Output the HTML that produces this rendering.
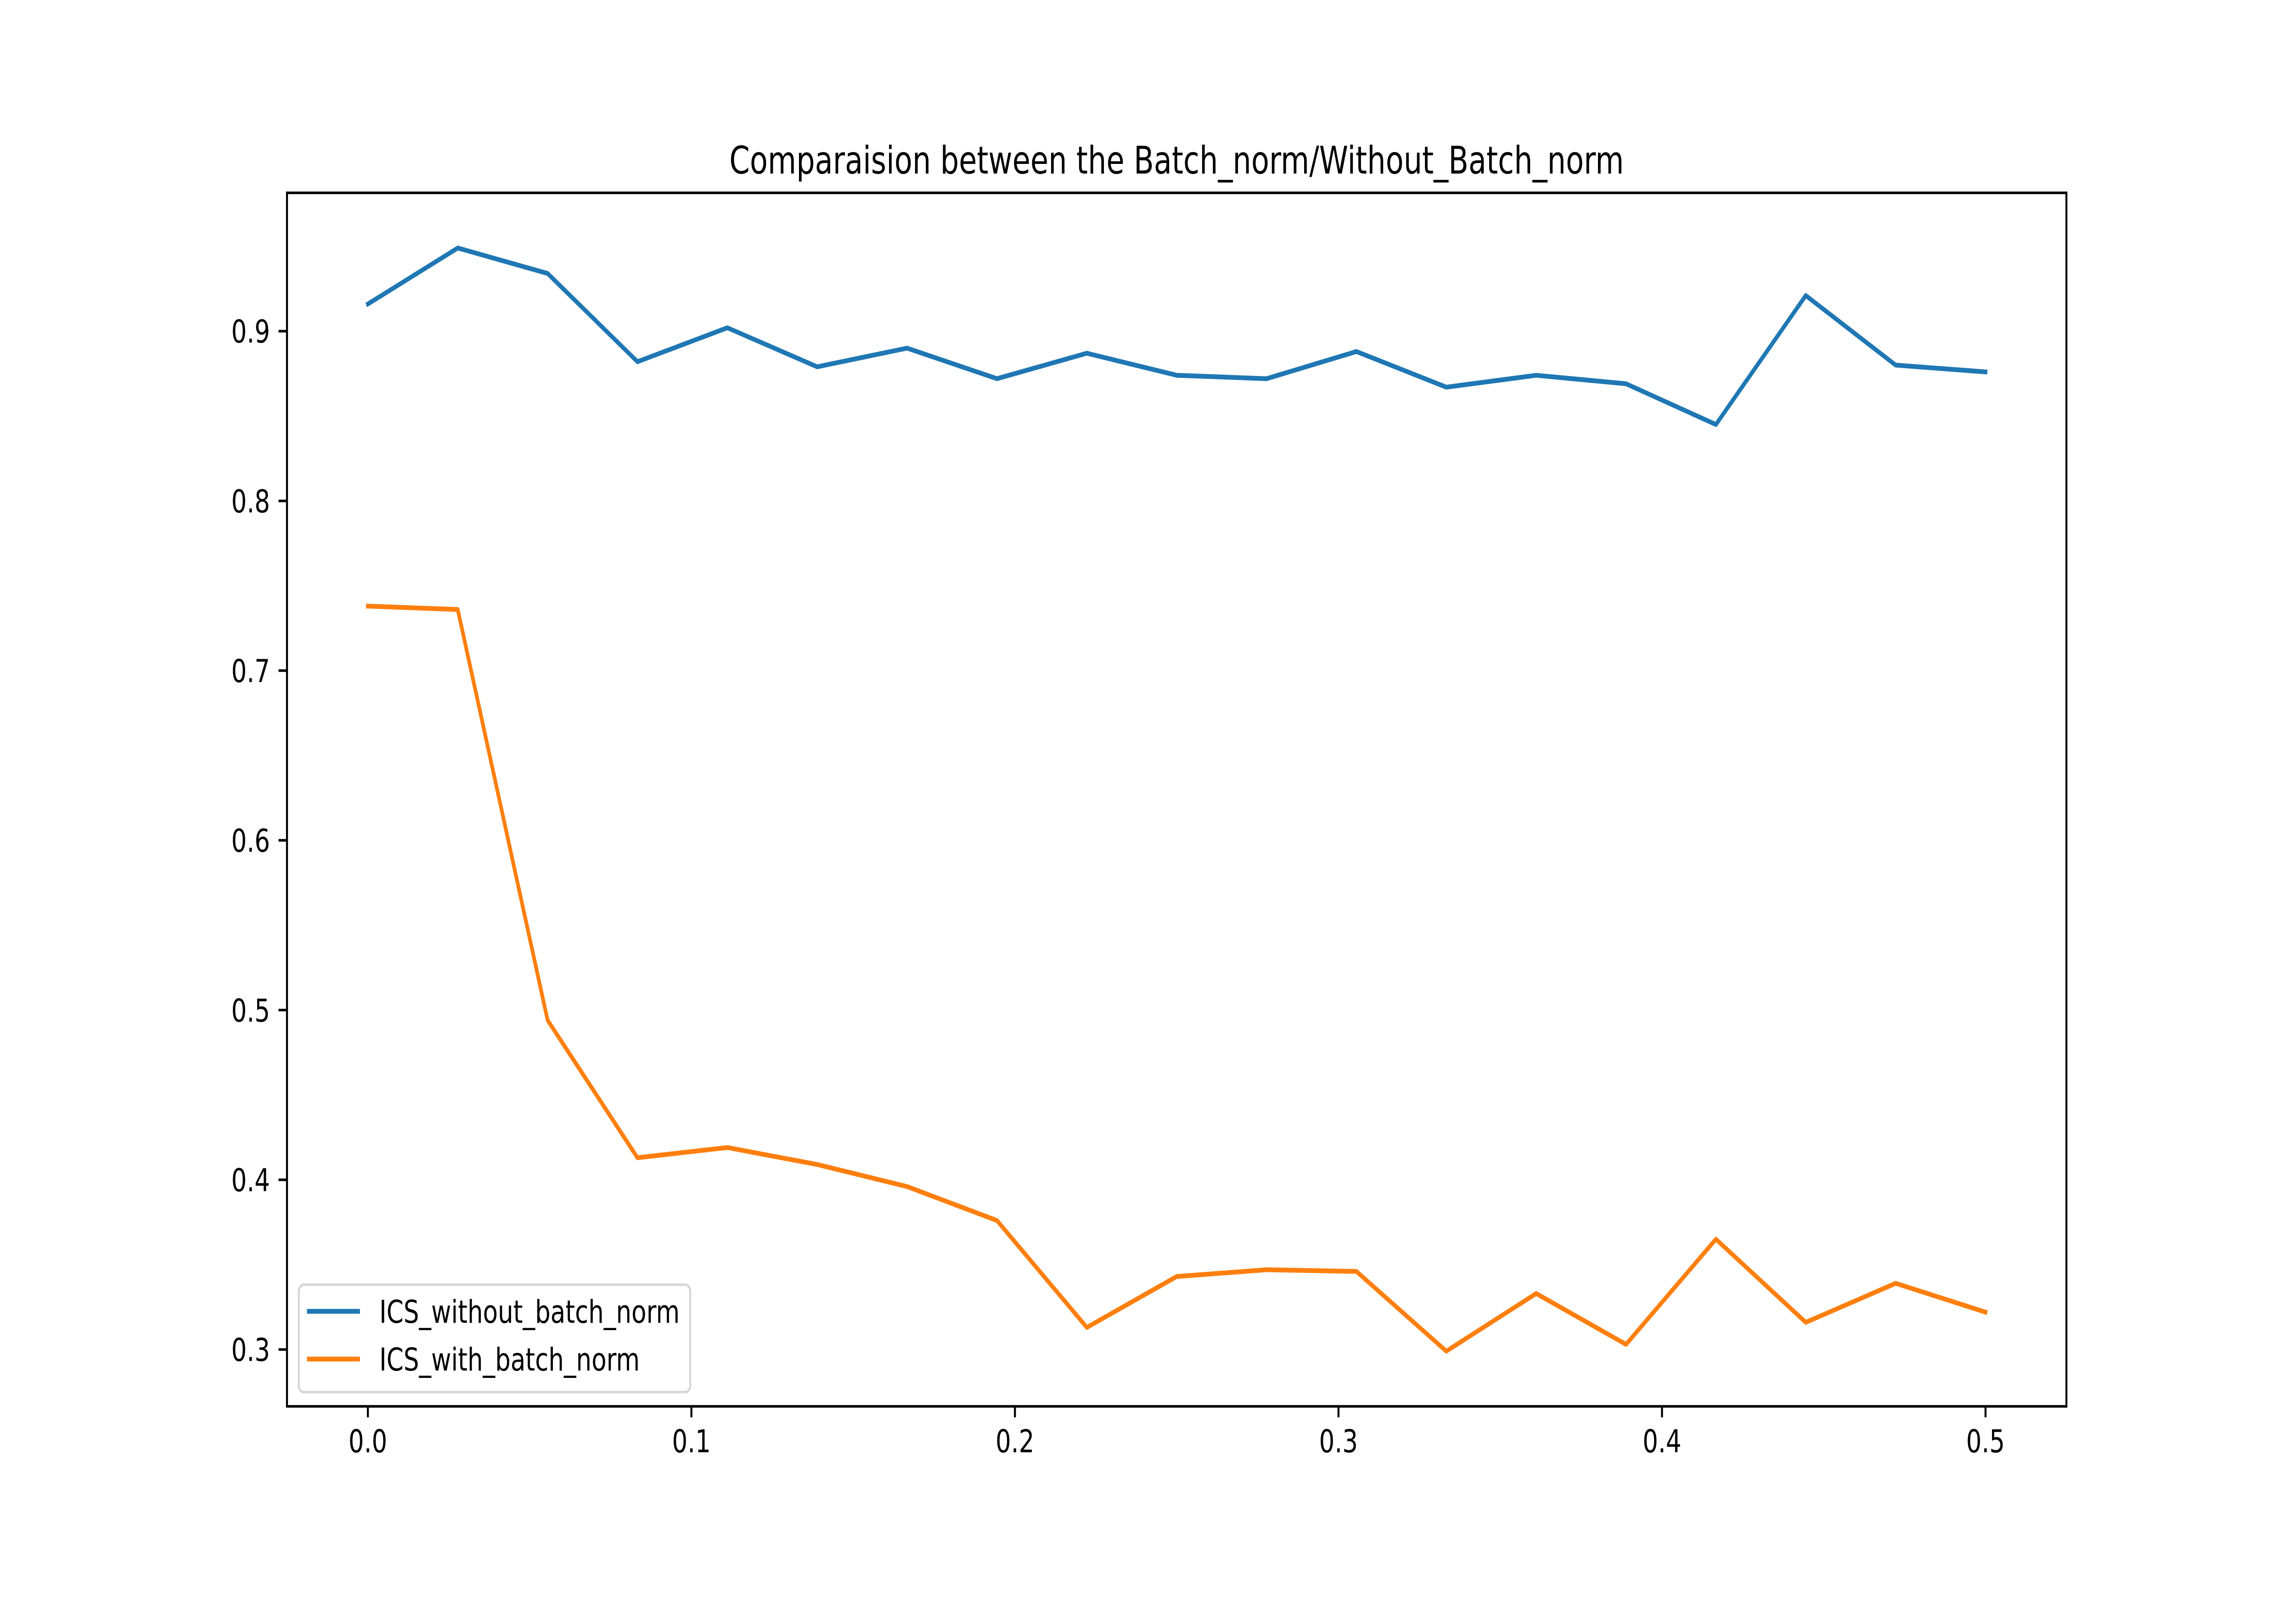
<!DOCTYPE html>
<html><head><meta charset="utf-8"><style>
html,body{margin:0;padding:0;background:#fff;overflow:hidden;width:100%;height:100%;}
svg{display:block;width:100vw;height:100vh;font-family:"DejaVu Sans","Liberation Sans",sans-serif;}
</style></head><body>
<svg id="chart" viewBox="0 0 6500 3500" preserveAspectRatio="none" xmlns="http://www.w3.org/2000/svg">
<rect width="6500" height="3500" fill="#fff"/>
<text x="3331" y="378" font-size="83" text-anchor="middle" fill="#000">Comparaision between the Batch_norm/Without_Batch_norm</text>
<g id="plot"></g>
</svg>
<script>
const xValues = [0,1/36,2/36,3/36,4/36,5/36,6/36,7/36,8/36,9/36,10/36,11/36,12/36,13/36,14/36,15/36,16/36,17/36,18/36];
const withoutBN = [0.916,0.949,0.934,0.882,0.902,0.879,0.890,0.872,0.887,0.874,0.872,0.888,0.867,0.874,0.869,0.845,0.921,0.880,0.876];
const withBN = [0.738,0.736,0.494,0.413,0.419,0.409,0.396,0.376,0.313,0.343,0.347,0.346,0.299,0.333,0.303,0.365,0.316,0.339,0.322];
const xTicks = [0.0,0.1,0.2,0.3,0.4,0.5];
const xTickLabels = ["0.0","0.1","0.2","0.3","0.4","0.5"];
const yTicks = [0.3,0.4,0.5,0.6,0.7,0.8,0.9];
const yTickLabels = ["0.3","0.4","0.5","0.6","0.7","0.8","0.9"];
const seriesNames = ["ICS_without_batch_norm","ICS_with_batch_norm"];

const NS="http://www.w3.org/2000/svg";
const L=812.5,R=5850,T=420,B=3063;
const xmin=Math.min(...xValues),xmax=Math.max(...xValues),xm=(xmax-xmin)*0.05;
const all=withoutBN.concat(withBN);
const ymin=Math.min(...all),ymax=Math.max(...all),ym=(ymax-ymin)*0.05;
const X=v=>L+(v-(xmin-xm))/((xmax+xm)-(xmin-xm))*(R-L);
const Y=v=>B-(v-(ymin-ym))/((ymax+ym)-(ymin-ym))*(B-T);
const g=document.getElementById('plot');
function mk(tag,attrs){const e=document.createElementNS(NS,tag);for(const k in attrs)e.setAttribute(k,attrs[k]);g.appendChild(e);return e;}

const colors=["#1f77b4","#ff7f0e"];
[withoutBN,withBN].forEach((s,i)=>{
  const p=mk('polyline',{points:s.map((v,j)=>X(xValues[j])+','+Y(v)).join(' '),fill:'none',stroke:colors[i],'stroke-width':10.4,'stroke-linejoin':'round','stroke-linecap':'square'});
  
  
});

const frame=mk('rect',{x:L,y:T,width:R-L,height:B-T,fill:'none',stroke:'#000','stroke-width':5.6});



xTicks.forEach((v,i)=>{
  const t=mk('line',{x1:X(v),x2:X(v),y1:B,y2:B+24,stroke:'#000','stroke-width':5.6});
  
  
  const tx=mk('text',{x:X(v),y:B+24+24+52,'font-size':69,'text-anchor':'middle',fill:'#000'});
  tx.textContent=xTickLabels[i];
  
  
});
yTicks.forEach((v,i)=>{
  const t=mk('line',{x1:L-24,x2:L,y1:Y(v),y2:Y(v),stroke:'#000','stroke-width':5.6});
  
  
  const tx=mk('text',{x:L-24-24,y:Y(v)+25,'font-size':69,'text-anchor':'end',fill:'#000'});
  tx.textContent=yTickLabels[i];
  
  
});

const lg=mk('rect',{x:846,y:2798,width:1108,height:234,rx:14,fill:'#fff','fill-opacity':0.8,stroke:'#d6d6d6','stroke-width':5.6});


[2856,2960].forEach((yy,i)=>{
  const ln=mk('line',{x1:869,x2:1019,y1:yy,y2:yy,stroke:colors[i],'stroke-width':10.4});
  
  
  const tx=mk('text',{x:1074,y:yy+25,'font-size':69,fill:'#000'});
  tx.textContent=seriesNames[i];
  
  
});
</script>
</body></html>
